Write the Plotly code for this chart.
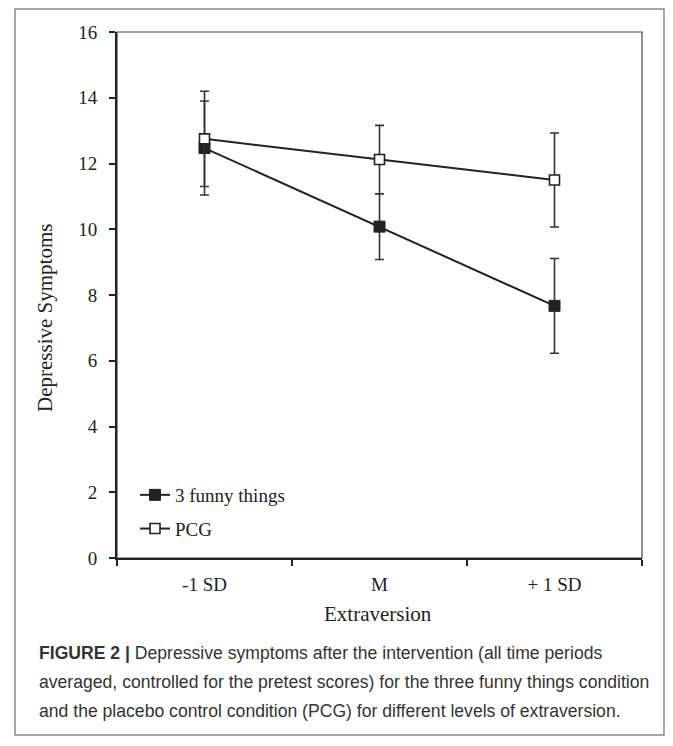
import plotly.graph_objects as go

categories = ["-1 SD", "M", "+ 1 SD"]
funny_values = [12.47, 10.08, 7.67]
funny_errors = [1.43, 1.00, 1.44]
pcg_values = [12.75, 12.12, 11.50]
pcg_errors = [1.45, 1.04, 1.43]
y_ticks = [0, 2, 4, 6, 8, 10, 12, 14, 16]
series_names = ["3 funny things", "PCG"]

caption_lines = [
    "<b>FIGURE 2 |</b> Depressive symptoms after the intervention (all time periods",
    "averaged, controlled for the pretest scores) for the three funny things condition",
    "and the placebo control condition (PCG) for different levels of extraversion.",
]

# the page body has an 8px default margin, so work in page pixels minus 8
OFF = 8
W, H = 673 - OFF, 746 - 2 * OFF
L, R, T, B = 117 - OFF, 642 - OFF, 32 - OFF, 558 - OFF


def px_x(p):
    return (p - OFF - L) / (R - L)


def px_y(p):
    return (B - (p - OFF)) / (B - T)


SERIF = "Liberation Serif, Times New Roman, serif"
SANS = "Liberation Sans Narrow, Arial Narrow, Liberation Sans, Arial, sans-serif"
INK = "#222222"

fig = go.Figure()
fig.add_trace(go.Scatter(
    x=categories, y=funny_values, name=series_names[0], mode="lines+markers",
    line=dict(color=INK, width=2),
    marker=dict(symbol="square", size=11, color=INK, line=dict(color=INK, width=1)),
    error_y=dict(type="data", array=funny_errors, color="#333333", thickness=1.6, width=4.5),
    legendgroup="a",
))
fig.add_trace(go.Scatter(
    x=categories, y=pcg_values, name=series_names[1], mode="lines+markers",
    line=dict(color=INK, width=2),
    marker=dict(symbol="square", size=10, color="white", line=dict(color=INK, width=1.6)),
    error_y=dict(type="data", array=pcg_errors, color="#333333", thickness=1.6, width=4.5),
    legendgroup="b",
))

fig.update_layout(
    width=W, height=H,
    margin=dict(l=L, r=W - R, t=T, b=H - B, pad=0),
    paper_bgcolor="white", plot_bgcolor="white",
    showlegend=True,
    legend=dict(
        x=px_x(135), y=px_y(476), xanchor="left", yanchor="top",
        bgcolor="rgba(0,0,0,0)", font=dict(family=SERIF, size=19, color=INK),
        traceorder="grouped", tracegroupgap=6, itemwidth=30,
    ),
    font=dict(family=SERIF, color=INK),
)
fig.update_xaxes(
    type="category", range=[-0.5, 2.5], tickson="boundaries",
    ticks="outside", ticklen=6, tickwidth=1.5, tickcolor=INK,
    showline=True, linecolor=INK, linewidth=2, showgrid=False, zeroline=False,
    tickfont=dict(family=SERIF, size=19, color=INK), ticklabelstandoff=8,
)
fig.update_yaxes(
    range=[0, 16], tickvals=y_ticks, ticks="outside", ticklen=6, tickwidth=1.5,
    tickcolor=INK, showline=True, linecolor=INK, linewidth=2, showgrid=False,
    zeroline=False, tickfont=dict(family=SERIF, size=19, color=INK), ticklabelstandoff=8,
)

shapes = [
    dict(type="rect", xref="paper", yref="paper", x0=0, x1=1, y0=0, y1=1,
         line=dict(color="#444444", width=1.2), layer="below"),
    dict(type="rect", xref="paper", yref="paper", x0=px_x(15), x1=px_x(664),
         y0=px_y(735), y1=px_y(9), line=dict(color="#8a8a8a", width=1.5), layer="below"),
]
fig.update_layout(shapes=shapes)

annotations = [
    dict(text="Extraversion", x=px_x(378), y=px_y(614), xref="paper", yref="paper",
         showarrow=False, font=dict(family=SERIF, size=21, color=INK), xanchor="center", yanchor="middle"),
    dict(text="Depressive Symptoms", x=px_x(45), y=px_y(318), xref="paper", yref="paper",
         showarrow=False, textangle=-90, font=dict(family=SERIF, size=21, color=INK),
         xanchor="center", yanchor="middle"),
]
for i, line in enumerate(caption_lines):
    annotations.append(dict(
        text=line, x=px_x(37), y=px_y(653 + 29 * i), xref="paper", yref="paper",
        showarrow=False, xanchor="left", yanchor="middle", align="left",
        font=dict(family=SANS, size=17.6, color="#333333"),
    ))
fig.update_layout(annotations=annotations)

fig.write_html("out.html")
